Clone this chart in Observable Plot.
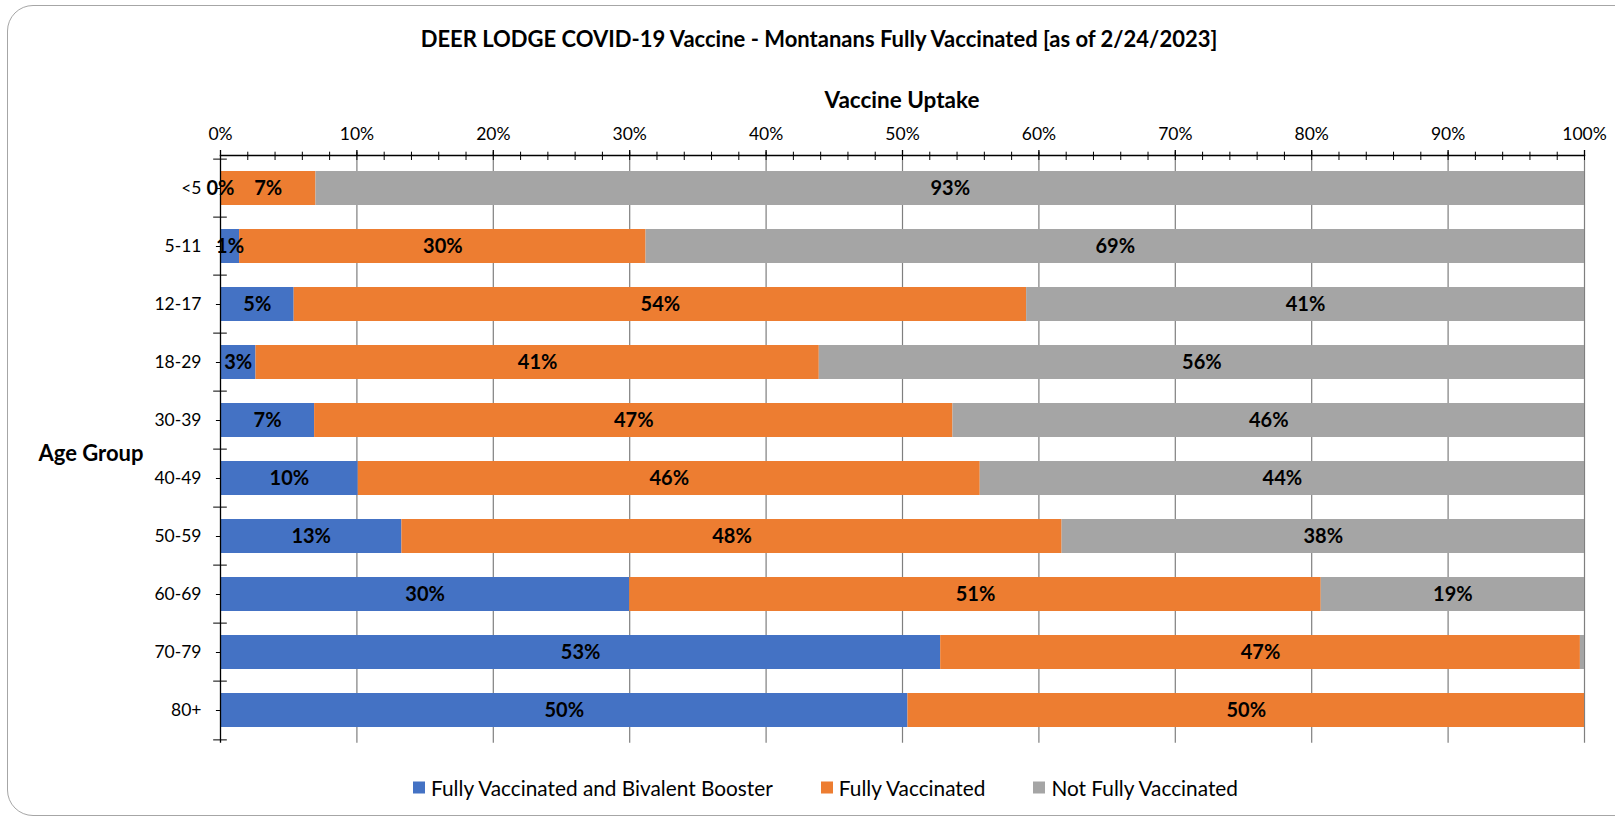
<!DOCTYPE html>
<html><head><meta charset="utf-8">
<script src="https://cdn.jsdelivr.net/npm/d3@7"></script>
<script src="https://cdn.jsdelivr.net/npm/@observablehq/plot@0.6"></script>
<style>
body{margin:0;background:#fff;font-family:Lato,"Open Sans",sans-serif;color:#000;}
#wrap{position:relative;width:1615px;height:817px;overflow:hidden;background:#fff;}
#border{position:absolute;left:7px;top:5px;width:1636px;height:811px;border:1.5px solid #a6a6a6;border-radius:26px;box-sizing:border-box;}
#title{position:absolute;left:819px;top:38px;transform:translate(-50%,-50%);font-weight:bold;font-size:22px;white-space:nowrap;}
#xtitle{position:absolute;left:902px;top:99px;transform:translate(-50%,-50%);font-weight:bold;font-size:22.5px;white-space:nowrap;}
#ytitle{position:absolute;left:91px;top:452px;transform:translate(-50%,-50%);font-weight:bold;font-size:22px;white-space:nowrap;}
#chart{position:absolute;left:0;top:0;}
#legend{position:absolute;left:413px;top:787px;transform:translateY(-50%);display:flex;gap:48px;font-size:20.8px;white-space:nowrap;}
#legend .item{display:flex;align-items:center;gap:6px;}
#legend .sw{width:12px;height:12px;display:inline-block;}
</style></head>
<body>
<div id="wrap">
<div id="border"></div>
<div id="chart"></div>
<div id="title">DEER LODGE COVID-19 Vaccine - Montanans Fully Vaccinated [as of 2/24/2023]</div>
<div id="xtitle">Vaccine Uptake</div>
<div id="ytitle">Age Group</div>
<div id="legend"></div>
</div>
<script>
const ages = ["<5","5-11","12-17","18-29","30-39","40-49","50-59","60-69","70-79","80+"];
const series = ["Fully Vaccinated and Bivalent Booster","Fully Vaccinated","Not Fully Vaccinated"];
const colors = ["#4472C4","#ED7D31","#A5A5A5"];
const booster  = [0, 1.4, 5.4, 2.6, 6.9, 10.1, 13.3, 30.0, 52.8, 50.4];
const fully    = [7.0, 29.8, 53.7, 41.3, 46.8, 45.6, 48.4, 50.7, 46.9, 49.6];
const notFully = [93.0, 68.8, 40.9, 56.1, 46.3, 44.3, 38.3, 19.3, 0.3, 0];
const xTicks = [0,10,20,30,40,50,60,70,80,90,100];
const xMinorTicks = d3.range(0, 101, 2);

const values = [booster, fully, notFully];
const rows = [];
ages.forEach((age, i) => {
  let acc = 0;
  series.forEach((s, j) => {
    const v = values[j][i];
    rows.push({age, series: s, value: v, x1: acc, x2: acc + v, mid: acc + v / 2});
    acc += v;
  });
});
const labels = rows.filter(d => !(d.series === series[2] && d.value < 1));

const W = 1615, H = 760, mt = 155, mb = H - 742.7, ml = 220, mr = 31;
const frameH = H - mt - mb;
const step = frameH / ages.length;

const chart = Plot.plot({
  width: W, height: H,
  marginTop: mt, marginBottom: mb, marginLeft: ml, marginRight: mr,
  style: {fontFamily: "Lato, 'Open Sans', sans-serif", fontSize: "17px", color: "#000", background: "transparent", overflow: "visible"},
  x: {domain: [0, 100], axis: null},
  y: {domain: ages, paddingInner: 0.42, paddingOuter: 0.21, axis: null},
  color: {domain: series, range: colors},
  marks: [
    Plot.ruleX(xTicks.slice(1), {stroke: "#7f7f7f", strokeWidth: 1.2}),
    Plot.barX(rows, {x1: "x1", x2: "x2", y: "age", fill: "series"}),
    Plot.ruleX([0], {stroke: "#000", strokeWidth: 1.3}),
    Plot.frame({anchor: "top", stroke: "#000", strokeWidth: 1.3}),
    Plot.ruleX(xMinorTicks, {insetBottom: frameH - 8.3, dy: -3.3, stroke: "#000"}),
    Plot.ruleX(xTicks, {insetBottom: frameH - 6, dy: -5, stroke: "#000", strokeWidth: 1.3}),
    Plot.axisX({anchor: "top", ticks: xTicks, tickSize: 0, tickPadding: 16, tickFormat: d => d + "%", fontSize: 17.5, label: null}),
    Plot.axisY({anchor: "left", tickSize: 0, tickPadding: 19, fontSize: 17.5, label: null}),
    Plot.ruleY(ages, {x1: -0.3, x2: 0, stroke: "#000"}),
    Plot.ruleY(ages, {x1: -0.5, x2: 0.5, dy: -step / 2, stroke: "#000"}),
    Plot.ruleY([ages[ages.length - 1]], {x1: -0.5, x2: 0.5, dy: step / 2, stroke: "#000"}),
    Plot.text(labels, {x: "mid", y: "age", text: d => Math.round(d.value) + "%", fontWeight: "bold", fontSize: 20, fill: "#000"})
  ]
});
document.getElementById("chart").appendChild(chart);

const legend = document.getElementById("legend");
series.forEach((s, i) => {
  const item = document.createElement("div");
  item.className = "item";
  const sw = document.createElement("span");
  sw.className = "sw";
  sw.style.background = colors[i];
  const t = document.createElement("span");
  t.textContent = s;
  item.appendChild(sw); item.appendChild(t);
  legend.appendChild(item);
});
</script>
</body></html>
